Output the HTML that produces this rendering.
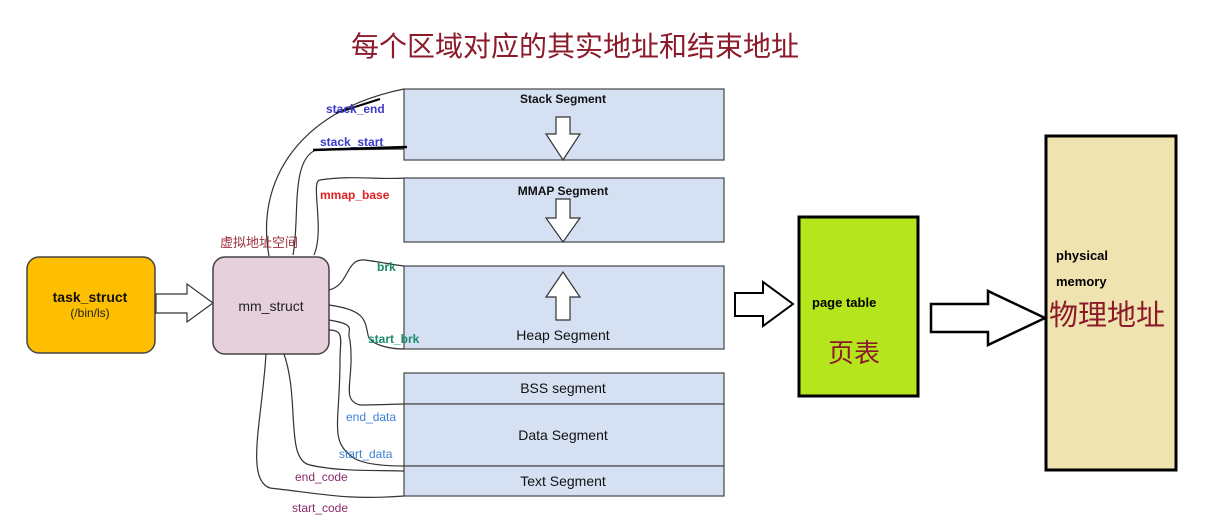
<!DOCTYPE html>
<html><head><meta charset="utf-8"><style>
body{margin:0;background:#fff;}
svg{display:block;font-family:"Liberation Sans","Noto Sans CJK SC",sans-serif;}
</style></head><body>
<svg width="1212" height="525" viewBox="0 0 1212 525" xmlns="http://www.w3.org/2000/svg">
<text x="575" y="56" text-anchor="middle" font-size="28" fill="#8b1a2b" font-family="Noto Sans CJK SC, sans-serif">每个区域对应的其实地址和结束地址</text>

<!-- task_struct -->
<rect x="27" y="257" width="128" height="96" rx="12" fill="#fdbf00" stroke="#444" stroke-width="1.5"/>
<text x="90" y="302" text-anchor="middle" font-size="14" font-weight="bold" fill="#111">task_struct</text>
<text x="90" y="317" text-anchor="middle" font-size="12" fill="#222">(/bin/ls)</text>
<polygon points="156,294 187,294 187,284 213,303 187,322 187,313 156,313" fill="#fff" stroke="#333" stroke-width="1.2"/>

<!-- mm_struct -->
<rect x="213" y="257" width="116" height="97" rx="12" fill="#e6d0dc" stroke="#444" stroke-width="1.5"/>
<text x="271" y="311" text-anchor="middle" font-size="14" fill="#222">mm_struct</text>
<text x="220" y="247" font-size="13" fill="#a0303c" font-family="Noto Sans CJK SC, sans-serif">虚拟地址空间</text>

<!-- segments -->
<g stroke="#444" stroke-width="1.2" fill="#d5e1f3">
<rect x="404" y="89" width="320" height="71"/>
<rect x="404" y="178" width="320" height="64"/>
<rect x="404" y="266" width="320" height="83"/>
<rect x="404" y="373" width="320" height="31"/>
<rect x="404" y="404" width="320" height="62"/>
<rect x="404" y="466" width="320" height="30"/>
</g>
<g font-size="12" fill="#111" text-anchor="middle">
<text x="563" y="103" font-weight="bold">Stack Segment</text>
<text x="563" y="195" font-weight="bold">MMAP Segment</text>
<text x="563" y="340" font-size="14">Heap Segment</text>
<text x="563" y="393" font-size="14">BSS segment</text>
<text x="563" y="440" font-size="14">Data Segment</text>
<text x="563" y="486" font-size="14">Text Segment</text>
</g>
<g fill="#fff" stroke="#333" stroke-width="1.2">
<polygon points="556,117 570,117 570,134 580,134 563,160 546,134 556,134"/>
<polygon points="556,199 570,199 570,218 580,218 563,242 546,218 556,218"/>
<polygon points="556,320 570,320 570,297 580,297 563,272 546,297 556,297"/>
</g>

<!-- curves -->
<g fill="none" stroke="#333" stroke-width="1.2">
<path d="M269,256 C255,180 300,110 404,89"/>
<path d="M293,255 C300,220 290,160 316,150 L404,149"/>
<path d="M314,255 C325,230 310,180 320,180 C350,175 380,180 404,178"/>
<path d="M329,290 C350,285 345,258 365,260 C380,262 395,265 404,266"/>
<path d="M329,305 C365,310 365,320 368,335 C370,345 390,349 404,349"/>
<path d="M329,320 C360,325 345,330 350,340 C355,380 340,400 360,405 C380,405 395,404 404,404"/>
<path d="M329,330 C345,330 340,340 340,360 C340,420 330,440 350,455 C360,466 395,466 404,466"/>
<path d="M284,354 C300,400 285,460 310,465 C340,472 380,470 404,471"/>
<path d="M266,354 C262,420 245,480 270,488 C330,495 350,500 404,496"/>
</g>
<line x1="313" y1="150" x2="407" y2="147" stroke="#000" stroke-width="2.5"/>
<line x1="336" y1="113" x2="380" y2="99" stroke="#000" stroke-width="2"/>

<!-- labels -->
<g font-size="12" font-weight="bold">
<text x="326" y="113" fill="#3a3acd">stack_end</text>
<text x="320" y="146" fill="#3a3acd">stack_start</text>
<text x="320" y="199" fill="#e02020">mmap_base</text>
<text x="377" y="271" fill="#1a8a6a">brk</text>
<text x="368" y="343" fill="#1a8a6a">start_brk</text>
<text x="346" y="421" fill="#3f7fd8" font-weight="normal">end_data</text>
<text x="339" y="458" fill="#3f7fd8" font-weight="normal">start_data</text>
<text x="295" y="481" fill="#8b2a6a" font-weight="normal">end_code</text>
<text x="292" y="512" fill="#8b2a6a" font-weight="normal">start_code</text>
</g>

<!-- page table -->
<polygon points="735,293 763,293 763,282 793,304 763,326 763,316 735,316" fill="#fff" stroke="#000" stroke-width="2"/>
<rect x="799" y="217" width="119" height="179" fill="#b5e61d" stroke="#000" stroke-width="3"/>
<text x="812" y="307" font-size="13" font-weight="bold" fill="#000">page table</text>
<text x="828" y="362" font-size="26" fill="#8b1a2b" font-family="Noto Sans CJK SC, sans-serif">页表</text>

<polygon points="931,304 988,304 988,291 1045,318 988,345 988,332 931,332" fill="#fff" stroke="#000" stroke-width="2.5"/>
<rect x="1046" y="136" width="130" height="334" fill="#efe4b0" stroke="#000" stroke-width="3"/>
<text x="1056" y="260" font-size="13" font-weight="bold" fill="#000">physical</text>
<text x="1056" y="286" font-size="13" font-weight="bold" fill="#000">memory</text>
<text x="1049" y="325" font-size="29" fill="#8b1a2b" font-family="Noto Sans CJK SC, sans-serif">物理地址</text>
</svg>
</body></html>
